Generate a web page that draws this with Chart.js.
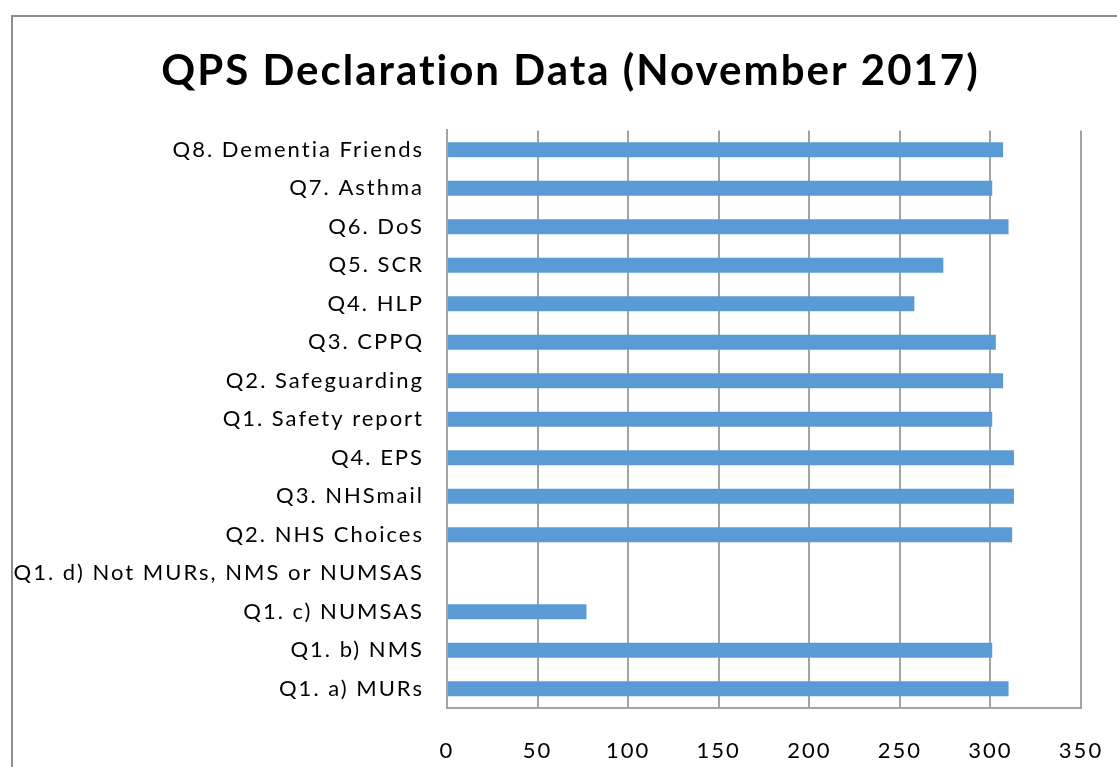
<!DOCTYPE html>
<html>
<head>
<meta charset="utf-8">
<script src="https://cdn.jsdelivr.net/npm/chart.js@4"></script>
<style>
  html, body { margin: 0; padding: 0; background: #fff; overflow: hidden; }
  #frame { position: absolute; left: 11px; top: 15px; width: 1200px; height: 900px; border: 2px solid #8e8e8e; box-sizing: border-box; }
  #wrap { position: absolute; left: 0; top: 0; width: 1117px; height: 767px; }
</style>
</head>
<body>
<div id="frame"></div>
<div id="wrap"><canvas id="qpsChart" width="1117" height="767"></canvas></div>
<script>
const questions = [
    'Q8. Dementia Friends',
    'Q7. Asthma',
    'Q6. DoS',
    'Q5. SCR',
    'Q4. HLP',
    'Q3. CPPQ',
    'Q2. Safeguarding',
    'Q1. Safety report',
    'Q4. EPS',
    'Q3. NHSmail',
    'Q2. NHS Choices',
    'Q1. d) Not MURs, NMS or NUMSAS',
    'Q1. c) NUMSAS',
    'Q1. b) NMS',
    'Q1. a) MURs'
];
const declarations = [307, 301, 310, 274, 258, 303, 307, 301, 313, 313, 312, 0, 77, 301, 310];
const xTicks = [0, 50, 100, 150, 200, 250, 300, 350];

const fontName = 'Lato, "Open Sans", sans-serif';
const gridGrey = '#a3a3a3';

// the original font is set wide, so space the letters out a bit,
// and the title sits a little right of the canvas centre
const tweaks = {
    id: 'tweaks',
    beforeLayout(chart) { chart.ctx.letterSpacing = '2px'; },
    afterLayout(chart) {
        if (chart.titleBlock) chart.titleBlock.left = 24;
    },
    beforeDraw(chart) { chart.ctx.letterSpacing = '2px'; }
};

const ctx = document.getElementById('qpsChart');

new Chart(ctx, {
    type: 'bar',
    data: {
        labels: questions,
        datasets: [{
            label: 'QPS',
            data: declarations,
            backgroundColor: '#5b9bd5',
            borderWidth: 0,
            barPercentage: 0.39,
            categoryPercentage: 1
        }]
    },
    options: {
        indexAxis: 'y',
        responsive: false,
        animation: false,
        layout: { padding: 0 },
        plugins: {
            legend: { display: false },
            tooltip: { enabled: false },
            title: {
                display: true,
                text: 'QPS Declaration Data (November 2017)',
                color: '#000',
                font: { family: fontName, size: 42, weight: 'bold', lineHeight: 1.2 },
                padding: { top: 46, bottom: 34 }
            }
        },
        scales: {
            x: {
                min: 0,
                max: 350,
                afterBuildTicks: scale => { scale.ticks = xTicks.map(v => ({ value: v })); },
                afterFit: scale => { scale.height = 59; scale.paddingRight = 36; },
                grid: { color: gridGrey, lineWidth: 2, drawTicks: false },
                border: { display: true, color: gridGrey, width: 2 },
                ticks: {
                    color: '#000',
                    padding: 30,
                    font: { family: fontName, size: 22 }
                }
            },
            y: {
                afterFit: scale => { scale.width = 447; },
                grid: { display: false, drawTicks: false },
                border: { display: true, color: gridGrey, width: 2 },
                ticks: {
                    color: '#000',
                    padding: 23,
                    autoSkip: false,
                    font: { family: fontName, size: 22 }
                }
            }
        }
    },
    plugins: [tweaks]
});
</script>
</body>
</html>
